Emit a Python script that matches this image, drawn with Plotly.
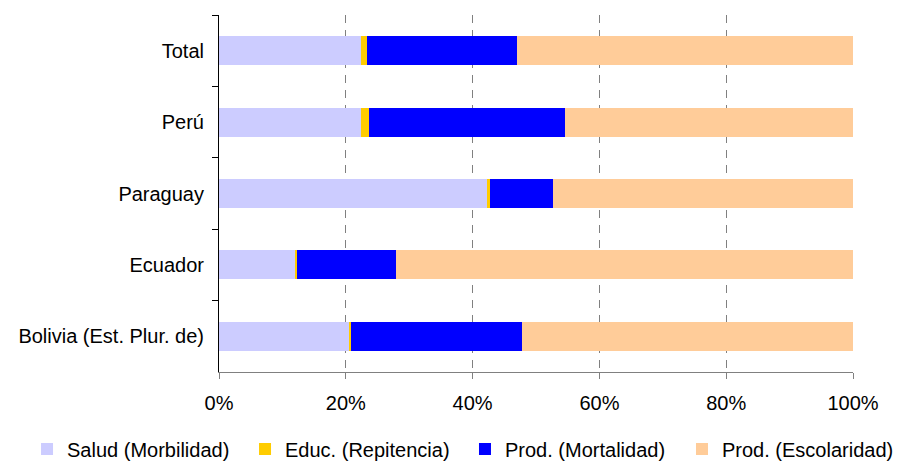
import plotly.graph_objects as go

# Country rows, top to bottom
countries = ["Total", "Perú", "Paraguay", "Ecuador", "Bolivia (Est. Plur. de)"]

# Share of each cost component (%)
salud_morbilidad = [22.4, 22.4, 42.4, 12.0, 20.6]
educ_repitencia = [0.9, 1.2, 0.3, 0.3, 0.2]
prod_mortalidad = [23.7, 30.9, 10.0, 15.6, 27.0]
prod_escolaridad = [53.0, 45.5, 47.3, 72.1, 52.2]

x_ticks = [0, 20, 40, 60, 80, 100]
x_tick_labels = ["0%", "20%", "40%", "60%", "80%", "100%"]

# name, values, colour, legend box it is listed in
series = [
    ("Salud (Morbilidad)", salud_morbilidad, "#CCCCFF", "legend"),
    ("Educ. (Repitencia)", educ_repitencia, "#FFCC00", "legend"),
    ("Prod. (Mortalidad)", prod_mortalidad, "#0000FF", "legend2"),
    ("Prod. (Escolaridad)", prod_escolaridad, "#FFCC99", "legend2"),
]

FONT = "Liberation Sans, Arial, sans-serif"

fig = go.Figure()
for name, vals, color, leg in series:
    fig.add_trace(go.Bar(
        y=countries, x=vals, name=name, orientation="h",
        marker=dict(color=color, line=dict(width=0)),
        legend=leg,
    ))

legend_common = dict(
    orientation="h", y=-0.2157, yanchor="middle",
    entrywidthmode="pixels",
    traceorder="normal", bgcolor="rgba(0,0,0,0)",
    font=dict(family=FONT, size=20, color="black"),
)

fig.update_layout(
    width=899, height=462,
    margin=dict(l=219, r=46, t=15, b=90, autoexpand=False),
    barmode="stack", bargap=0.594,
    plot_bgcolor="white", paper_bgcolor="white",
    font=dict(family=FONT, size=20, color="black"),
    showlegend=True,
    legend=dict(x=-0.3028, xanchor="left", entrywidth=173, **legend_common),
    legend2=dict(x=0.388, xanchor="left", entrywidth=172, **legend_common),
    xaxis=dict(
        range=[0, 100], tickmode="array", tickvals=x_ticks, ticktext=x_tick_labels,
        showgrid=True, gridcolor="#808080", griddash="8px,7px", gridwidth=1,
        showline=True, linecolor="#808080", linewidth=1,
        ticks="outside", ticklen=6, tickcolor="#808080",
        zeroline=False, fixedrange=True, ticklabelstandoff=7,
    ),
    yaxis=dict(
        categoryorder="array", categoryarray=countries, autorange="reversed",
        showline=True, linecolor="black", linewidth=1,
        ticks="outside", ticklen=6, tickcolor="black", tickson="boundaries",
        showgrid=False, zeroline=False, ticklabelstandoff=10,
    ),
)

fig.write_html("out.html")
